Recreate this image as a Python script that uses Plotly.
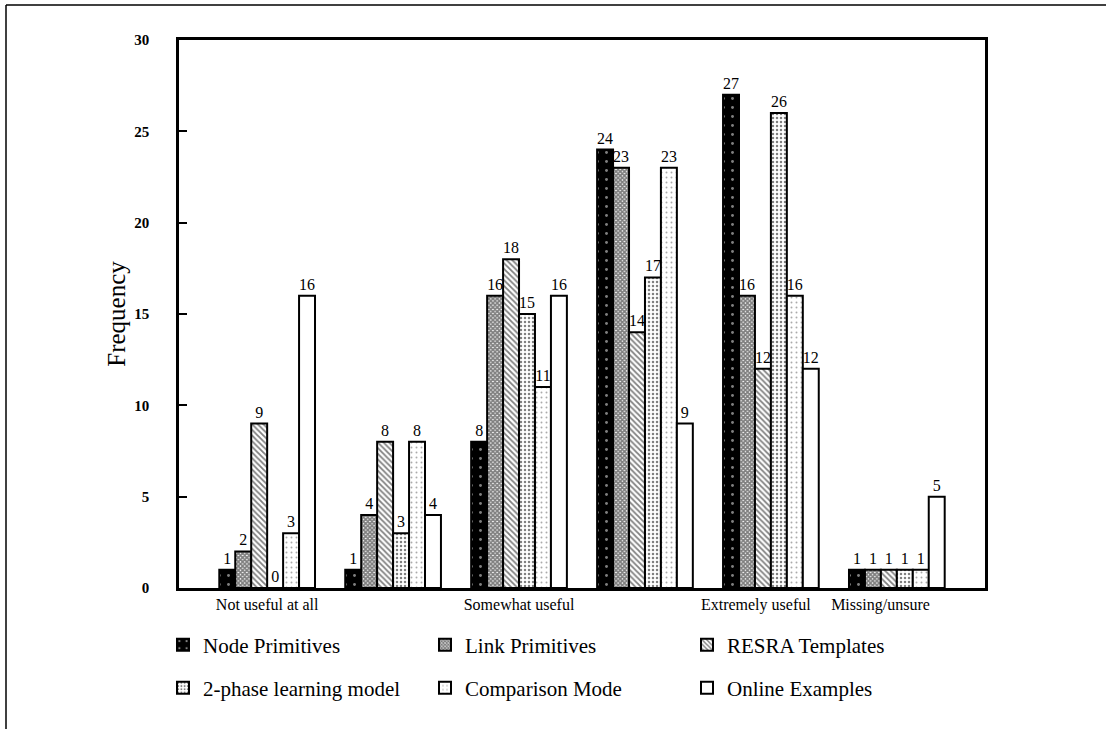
import plotly.graph_objects as go

cat_pos = [0, 1, 2, 3, 4, 5]
tick_vals = [0, 2, 3.88, 4.87]
tick_text = ["Not useful at all", "Somewhat useful", "Extremely useful", "Missing/unsure"]

series_names = ["Node Primitives", "Link Primitives", "RESRA Templates",
                "2-phase learning model", "Comparison Mode", "Online Examples"]
node_primitives = [1, 1, 8, 24, 27, 1]
link_primitives = [2, 4, 16, 23, 16, 1]
resra_templates = [9, 8, 18, 14, 12, 1]
two_phase = [0, 3, 15, 17, 26, 1]
comparison_mode = [3, 8, 11, 23, 16, 1]
online_examples = [16, 4, 16, 9, 12, 5]
series_values = [node_primitives, link_primitives, resra_templates,
                 two_phase, comparison_mode, online_examples]

styles = [
    dict(color="black", pattern=dict(shape=".", fgcolor="white", bgcolor="black", size=9, solidity=0.08)),
    dict(color="white", pattern=dict(shape="x", fgcolor="black", bgcolor="white", size=3, solidity=0.8)),
    dict(color="white", pattern=dict(shape="\\", fgcolor="black", bgcolor="white", size=4, solidity=0.45)),
    dict(color="white", pattern=dict(shape=".", fgcolor="black", bgcolor="white", size=4, solidity=0.3)),
    dict(color="white", pattern=dict(shape=".", fgcolor="#555", bgcolor="white", size=5, solidity=0.12)),
    dict(color="white", pattern=dict(shape="", fgcolor="black", bgcolor="white")),
]
legend_ids = ["legend", "legend", "legend", "legend2", "legend2", "legend2"]

SERIF = "Liberation Serif, Times New Roman, serif"

fig = go.Figure()
for name, vals, st, lg in zip(series_names, series_values, styles, legend_ids):
    fig.add_trace(go.Bar(
        x=cat_pos, y=vals, name=name,
        marker=dict(color=st["color"], pattern=st["pattern"],
                    line=dict(color="black", width=2)),
        text=[str(v) for v in vals], textposition="outside",
        textfont=dict(family=SERIF, size=16, color="black"),
        cliponaxis=False, legend=lg,
    ))

# page frame (top and left edges)
px_w, px_h = 806, 548
fig.add_shape(type="line", xref="paper", yref="paper",
              x0=(6 - 179) / px_w, x1=(1106 - 179) / px_w,
              y0=(588 - 5) / px_h, y1=(588 - 5) / px_h,
              line=dict(color="black", width=1.5))
fig.add_shape(type="line", xref="paper", yref="paper",
              x0=(6 - 179) / px_w, x1=(6 - 179) / px_w,
              y0=(588 - 5) / px_h, y1=(588 - 729) / px_h,
              line=dict(color="black", width=1.5))

legend_common = dict(
    orientation="h", xanchor="left", yanchor="middle",
    font=dict(family=SERIF, size=21, color="black"),
    entrywidth=217, entrywidthmode="pixels",
    bgcolor="rgba(0,0,0,0)", itemsizing="constant", traceorder="normal",
)

fig.update_layout(
    width=1106, height=729,
    margin=dict(l=179, r=121, t=40, b=141),
    paper_bgcolor="white", plot_bgcolor="white",
    barmode="group", bargap=0.24, bargroupgap=0,
    showlegend=True,
    legend=dict(x=(163 - 179) / px_w, y=(588 - 645) / px_h, **legend_common),
    legend2=dict(x=(163 - 179) / px_w, y=(588 - 688) / px_h, **legend_common),
    xaxis=dict(
        range=[-0.7, 5.7], tickvals=tick_vals, ticktext=tick_text,
        showgrid=False, zeroline=False, ticks="",
        showline=True, linecolor="black", linewidth=2.5, mirror=True,
        tickfont=dict(family=SERIF, size=16, color="black"),
        automargin=False,
    ),
    yaxis=dict(
        range=[0, 30], tickvals=[0, 5, 10, 15, 20, 25, 30],
        showgrid=False, zeroline=False,
        ticks="inside", ticklen=8, tickwidth=1.5, tickcolor="black",
        showline=True, linecolor="black", linewidth=2.5, mirror=True,
        tickfont=dict(family=SERIF, size=15, color="black", weight="bold"),
        ticklabelstandoff=24,
        title=dict(text="Frequency", font=dict(family=SERIF, size=25, color="black"), standoff=2),
        automargin=False,
    ),
    font=dict(family=SERIF, color="black"),
)

fig.write_html("out.html", config={"displayModeBar": False},
               post_script="document.body.style.margin='0';")
